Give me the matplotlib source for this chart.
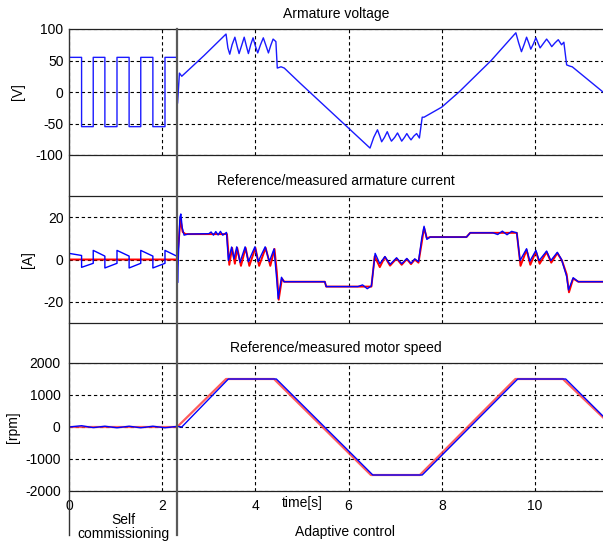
"""Self commissioning / adaptive control run: voltage, current and speed traces."""

import matplotlib.pyplot as plt
from matplotlib.lines import Line2D

plt.rcParams["font.family"] = ["Liberation Sans", "DejaVu Sans"]
plt.rcParams["font.size"] = 10
plt.rcParams["axes.unicode_minus"] = False

# ---- data ------------------------------------------------------------------
SWITCH_T = 2.32  # end of self commissioning
T_MAX = 11.46

volt_t = [0, 0.27, 0.27, 0.52, 0.52, 0.77, 0.77, 1.03, 1.03, 1.29, 1.29, 1.54, 1.54, 1.80, 1.80,
          2.06, 2.06, 2.32, 2.33, 2.37, 2.42, 2.9, 3.37, 3.41, 3.45, 3.50, 3.56, 3.61, 3.65,
          3.71, 3.76, 3.81, 3.85, 3.90, 3.95, 4.00, 4.05, 4.11, 4.17, 4.23, 4.28, 4.33, 4.38,
          4.44, 4.47, 4.55, 4.62, 4.96, 6.46, 6.54, 6.62, 6.67, 6.71, 6.77, 6.83, 6.88, 6.92,
          6.99, 7.05, 7.10, 7.14, 7.20, 7.25, 7.30, 7.34, 7.40, 7.46, 7.52, 7.58, 7.62, 8.0,
          8.37, 9.06, 9.59, 9.65, 9.71, 9.77, 9.82, 9.87, 9.91, 9.97, 10.02, 10.07, 10.11,
          10.18, 10.25, 10.31, 10.36, 10.43, 10.50, 10.57, 10.62, 10.68, 10.75, 10.8, 11.46]
volt_v = [55, 55, -55, -55, 55, 55, -55, -55, 55, 55, -55, -55, 55, 55, -55,
          -55, 55, 55, -18, 30, 25, 58, 92, 70, 60, 75, 87, 72, 61,
          75, 87, 72, 61, 75, 86, 73, 62, 75, 86, 73, 62, 74, 84,
          80, 38, 40, 38, 14, -89, -72, -60, -70, -79, -72, -63, -72, -78,
          -72, -65, -72, -78, -72, -66, -72, -76, -70, -66, -73, -40, -40, -24,
          0, 50, 94, 78, 64, 76, 87, 77, 68, 77, 86, 77, 70,
          77, 84, 78, 72, 78, 83, 75, 79, 43, 41, 40, 0]

cur_meas_t = [0, 0.27, 0.27, 0.52, 0.52, 0.77, 0.77, 1.03, 1.03, 1.29, 1.29, 1.54, 1.54, 1.80,
              1.80, 2.06, 2.06, 2.32, 2.33, 2.35, 2.38, 2.40, 2.43, 2.47, 2.55, 3.0, 3.05, 3.1,
              3.15, 3.2, 3.25, 3.3, 3.38, 3.42, 3.49, 3.54, 3.60, 3.67, 3.78, 3.85, 3.99, 4.06,
              4.21, 4.30, 4.40, 4.46, 4.49, 4.56, 4.61, 5.49, 5.52, 6.2, 6.3, 6.4, 6.49, 6.57,
              6.67, 6.78, 6.89, 7.03, 7.14, 7.25, 7.34, 7.42, 7.50, 7.57, 7.62, 7.68, 7.75,
              8.53, 8.61, 9.1, 9.2, 9.3, 9.4, 9.5, 9.61, 9.68, 9.82, 9.89, 10.02, 10.09, 10.25,
              10.34, 10.48, 10.57, 10.68, 10.72, 10.82, 10.93, 11.46]
cur_meas_v = [2.9, 1.9, -3.7, -1.8, 4.3, 1.6, -4.0, -1.8, 4.3, 1.6, -4.0, -1.8, 4.3, 1.6,
              -4.0, -1.8, 4.3, 1.5, -11, 3, 20, 21.5, 15, 11.5, 12, 12.2, 13, 11.5,
              13.2, 11.6, 13.3, 11.5, 12.8, -0.5, 5.9, 0.3, 6.0, -1.3, 6.0, -1.0, 6.0, -1.0,
              6.0, -1.0, 5.0, -10, -18.5, -8.4, -10.5, -10.5, -12.8, -12.8, -12, -13.8, -12.5, 2.9,
              -2.0, 1.4, -2.3, 0.8, -2.0, 0.5, -1.8, 0.3, -1.0, 10, 15.7, 9.5, 10.6,
              10.6, 12.6, 12.6, 11.8, 13.4, 11.7, 13.3, 12.6, -0.5, 5.1, -0.8, 4.3, -0.5, 4.0,
              -0.5, 3.4, 0.0, -8, -14.4, -8.6, -10.5, -10.5]

cur_ref_t = [0, 2.32, 2.36, 2.39, 2.44, 2.5, 3.39, 3.44, 3.50, 3.56, 3.61, 3.69, 3.79, 3.87,
             4.00, 4.08, 4.22, 4.32, 4.41, 4.46, 4.50, 4.57, 4.62, 5.49, 5.52, 6.49, 6.56,
             6.67, 6.78, 6.89, 7.03, 7.14, 7.25, 7.34, 7.42, 7.50, 7.57, 7.62, 7.68, 7.75,
             8.53, 8.61, 9.61, 9.69, 9.82, 9.90, 10.02, 10.10, 10.25, 10.35, 10.48, 10.58,
             10.68, 10.73, 10.82, 10.93, 11.46]
cur_ref_v = [0, 0, 10, 19, 13, 12, 12, -2.5, 5.5, -2.0, 5.5, -3.0, 5.5, -3.0,
             5.5, -3.0, 5.5, -3.0, 5.0, -6, -19, -9, -10.5, -10.5, -12.8, -12.8, 1.5,
             -3.6, 1.2, -2.9, 0.5, -2.5, 0.2, -2.2, 0.0, -1.5, 8, 15.0, 10.0, 10.6,
             10.6, 12.6, 12.6, -3.0, 4.5, -2.5, 3.8, -2.0, 3.5, -1.5, 3.0, -0.5,
             -7, -15.5, -9, -10.5, -10.5]

speed_ref_t = [0, 2.32, 3.37, 4.40, 6.48, 7.53, 9.58, 10.60, 11.46]
speed_ref_v = [0, 0, 1500, 1500, -1500, -1500, 1500, 1500, 300]

speed_meas_t = [0, 0.27, 0.52, 0.77, 1.03, 1.29, 1.54, 1.80, 2.06, 2.32, 2.42, 3.42, 4.45,
                6.52, 7.58, 9.63, 10.66, 11.46]
speed_meas_v = [0, 40, -20, 25, -25, 25, -25, 25, -25, 20, 0, 1500, 1500,
                -1500, -1500, 1500, 1500, 340]

panels = [
    ("Armature voltage", "[V]", (-100, 100), [-100, -50, 0, 50, 100], -0.082),
    ("Reference/measured armature current", "[A]", (-30, 30), [-20, 0, 20], -0.064),
    ("Reference/measured motor speed", "[rpm]", (-2000, 2000), [-2000, -1000, 0, 1000, 2000], -0.092),
]
x_ticks = [0, 2, 4, 6, 8, 10]

# ---- figure ------------------------------------------------------------------
W, H = 603, 543
fig = plt.figure(figsize=(W / 100, H / 100), dpi=100)
boxes = [(29, 155), (196, 323), (363, 491)]  # top/bottom pixel rows of each panel
left = 69 / W
axes = []
for (top, bot), (title, ylab, ylim, yticks, lab_x) in zip(boxes, panels):
    ax = fig.add_axes([left, 1 - bot / H, 1 - left, (bot - top) / H])
    ax.set_xlim(0, T_MAX)
    ax.set_ylim(*ylim)
    ax.set_yticks(yticks)
    ax.set_xticks(x_ticks)
    ax.grid(True, color="black", linestyle=(0, (3, 2.5)), linewidth=0.8)
    ax.tick_params(length=0, pad=4, labelsize=10)
    for side in ("left", "right"):
        ax.spines[side].set_visible(False)
    for side in ("top", "bottom"):
        ax.spines[side].set_color("#222222")
        ax.spines[side].set_linewidth(0.9)
    ax.set_title(title, pad=8, fontsize=10)
    ax.set_ylabel(ylab)
    ax.yaxis.set_label_coords(lab_x, 0.5)
    axes.append(ax)

ax_v, ax_i, ax_n = axes
ax_v.plot(volt_t, volt_v, color="#1a1aff", linewidth=1.0)
ax_i.plot(cur_ref_t, cur_ref_v, color="#ff0000", linewidth=1.4)
ax_i.plot(cur_meas_t, cur_meas_v, color="#0000ff", linewidth=1.0)
ax_n.plot(speed_ref_t, speed_ref_v, color="#ff4040", linewidth=1.6, alpha=0.85)
ax_n.plot(speed_meas_t, speed_meas_v, color="#0000ff", linewidth=1.0)

for ax in (ax_v, ax_i):
    ax.tick_params(labelbottom=False)
ax_n.tick_params(pad=6)

# long vertical lines: left border and the end of self commissioning
inv = fig.transFigure.inverted()
y_top = 1 - boxes[0][0] / H
y_bot = 1 - 535 / H
for t, col, lw in [(0, "#333333", 1.0), (SWITCH_T, "#5a5a5a", 1.6)]:
    xf = inv.transform(ax_n.transData.transform((t, 0)))[0]
    fig.add_artist(Line2D([xf, xf], [y_top, y_bot], transform=fig.transFigure,
                          color=col, linewidth=lw))

# bottom annotations
ax_n.annotate("time[s]", xy=(5.0, 1 - 503 / H), xycoords=("data", "figure fraction"),
              ha="center", va="center")
ax_n.annotate("Self\ncommissioning", xy=(SWITCH_T / 2, 1 - 527 / H),
              xycoords=("data", "figure fraction"), ha="center", va="center",
              linespacing=1.05)
ax_n.annotate("Adaptive control", xy=(5.92, 1 - 532 / H),
              xycoords=("data", "figure fraction"), ha="center", va="center")

fig.savefig("out.png", dpi=100)
plt.close(fig)
